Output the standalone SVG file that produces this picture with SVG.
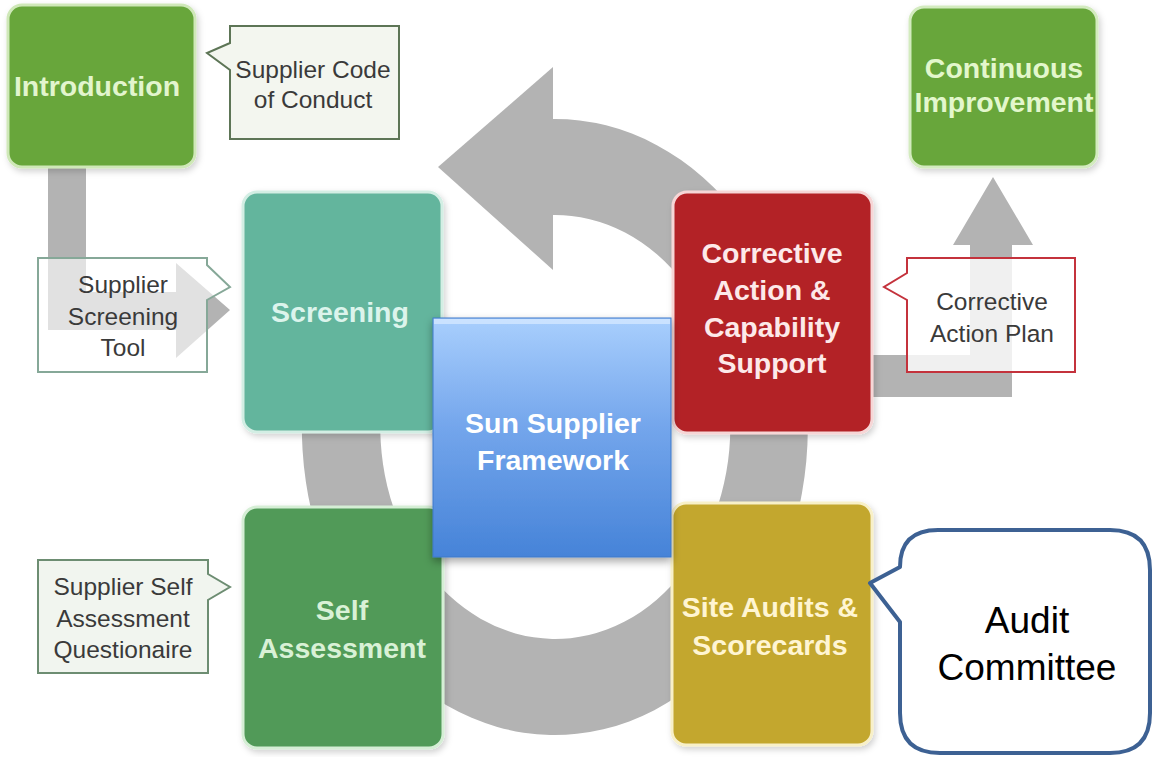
<svg xmlns="http://www.w3.org/2000/svg" width="1152" height="757" viewBox="0 0 1152 757">
<defs>
  <linearGradient id="blueGrad" x1="0" y1="0" x2="0" y2="1">
    <stop offset="0" stop-color="#a9cffd"/>
    <stop offset="0.45" stop-color="#74a6ec"/>
    <stop offset="1" stop-color="#4683d8"/>
  </linearGradient>
  <filter id="shadow" x="-10%" y="-10%" width="130%" height="130%">
    <feDropShadow dx="2" dy="3" stdDeviation="3" flood-color="#000" flood-opacity="0.18"/>
  </filter>
  <filter id="blueShadow" x="-10%" y="-10%" width="130%" height="130%">
    <feDropShadow dx="0" dy="4" stdDeviation="4" flood-color="#000" flood-opacity="0.35"/>
  </filter>
</defs>
<style>
  .gray { fill: #b3b3b3; }
  .box { stroke-width: 3; filter: url(#shadow); }
  .btxt { font-family: "Liberation Sans", Arial, sans-serif; font-weight: bold; font-size: 28.5px; text-anchor: middle; }
  .ctxt { font-family: "Liberation Sans", Arial, sans-serif; font-size: 24.5px; fill: #3a3a3a; text-anchor: middle; }
  .callout { stroke-width: 2; }
</style>
<rect width="1152" height="757" fill="#ffffff"/>

<g id="connectors">
  <!-- big cycle arrow -->
  <path class="gray" d="M 553,119 A 253 308 0 1 1 317,322 L 391,354 A 175 212 0 1 0 553,215 Z"/>
  <polygon class="gray" points="553,67 438,167 553,270"/>
  <!-- introduction to screening arrow -->
  <path class="gray" d="M 48,167 L 86,167 L 86,292 L 176,292 L 176,263 L 230,310 L 176,358 L 176,330 L 48,330 Z"/>
  <!-- corrective to continuous improvement arrow -->
  <path class="gray" d="M 872,355 L 970,355 L 970,245 L 953,245 L 993,177 L 1033,245 L 1012,245 L 1012,397 L 872,397 Z"/>
</g>

<g id="introduction">
  <rect class="box" x="8" y="5" width="187" height="162" rx="14" fill="#67a63a" stroke="#cfe8b8"/>
  <text class="btxt" x="97" y="96" fill="#e2f5cd" font-size="27">Introduction</text>
</g>

<g id="supplier-code-of-conduct">
  <path class="callout" d="M 230,26 L 399,26 L 399,139 L 230,139 L 230,70 L 207,53 L 230,43 Z" fill="#f3f6ef" stroke="#5d7556"/>
  <text class="ctxt" x="313" y="78">Supplier Code</text>
  <text class="ctxt" x="313" y="108">of Conduct</text>
</g>

<g id="supplier-screening-tool">
  <path class="callout" d="M 38,258 L 207,258 L 207,265 L 230,287 L 207,300 L 207,372 L 38,372 Z" fill="#ffffff" fill-opacity="0.6" stroke="#86a898"/>
  <text class="ctxt" x="123" y="293">Supplier</text>
  <text class="ctxt" x="123" y="325">Screening</text>
  <text class="ctxt" x="123" y="356">Tool</text>
</g>

<g id="screening">
  <rect class="box" x="243" y="192" width="199" height="240" rx="14" fill="#64b59d" stroke="#d3eee4"/>
  <text class="btxt" x="340" y="322" fill="#dcf4ec">Screening</text>
</g>

<g id="self-assessment">
  <rect class="box" x="243" y="507" width="200" height="241" rx="14" fill="#519a59" stroke="#d5eed5"/>
  <text class="btxt" x="342" y="620" fill="#d9f1d6">Self</text>
  <text class="btxt" x="342" y="658" fill="#d9f1d6">Assessment</text>
</g>

<g id="supplier-self-assessment-questionaire">
  <path class="callout" d="M 38,560 L 208,560 L 208,574 L 230,587 L 208,600 L 208,673 L 38,673 Z" fill="#f1f5ef" stroke="#6d8d72"/>
  <text class="ctxt" x="123" y="595">Supplier Self</text>
  <text class="ctxt" x="123" y="627">Assessment</text>
  <text class="ctxt" x="123" y="658">Questionaire</text>
</g>

<g id="corrective-action">
  <rect class="box" x="673" y="192" width="199" height="241" rx="14" fill="#b32126" stroke="#f6d6d6"/>
  <text class="btxt" x="772" y="263" fill="#fde9e9">Corrective</text>
  <text class="btxt" x="772" y="300" fill="#fde9e9">Action &amp;</text>
  <text class="btxt" x="772" y="337" fill="#fde9e9">Capability</text>
  <text class="btxt" x="772" y="373" fill="#fde9e9">Support</text>
</g>

<g id="corrective-action-plan">
  <path class="callout" d="M 907,258 L 1075,258 L 1075,372 L 907,372 L 907,300 L 884,287 L 907,273 Z" fill="#ffffff" fill-opacity="0.8" stroke="#c4323c"/>
  <text class="ctxt" x="992" y="310">Corrective</text>
  <text class="ctxt" x="992" y="342">Action Plan</text>
</g>

<g id="continuous-improvement">
  <rect class="box" x="910" y="7" width="187" height="160" rx="14" fill="#67a63a" stroke="#d3ebbf"/>
  <text class="btxt" x="1004" y="78" fill="#e3f7cc" font-size="26">Continuous</text>
  <text class="btxt" x="1004" y="112" fill="#e3f7cc" font-size="26">Improvement</text>
</g>

<g id="site-audits">
  <rect class="box" x="672" y="503" width="200" height="242" rx="14" fill="#c3a72e" stroke="#f8f0c8"/>
  <text class="btxt" x="770" y="617" fill="#fff5d2">Site Audits &amp;</text>
  <text class="btxt" x="770" y="655" fill="#fff5d2">Scorecards</text>
</g>

<g id="sun-supplier-framework">
  <rect x="433" y="318" width="238" height="239" fill="url(#blueGrad)" stroke="#3f79c9" stroke-width="1" filter="url(#blueShadow)"/>
  <rect x="434" y="319" width="236" height="5" fill="#d3e7ff" opacity="0.8"/>
  <text class="btxt" x="553" y="433" fill="#ffffff" font-size="31">Sun Supplier</text>
  <text class="btxt" x="553" y="470" fill="#ffffff" font-size="31">Framework</text>
</g>

<g id="audit-committee">
  <path d="M 938,530 L 1110,530 Q 1150,530 1150,570 L 1150,713 Q 1150,753 1110,753 L 940,753 Q 900,753 900,713 L 900,622 L 870,583 L 900,567 Q 900,530 938,530 Z" fill="#ffffff" stroke="#3d6193" stroke-width="4" stroke-linejoin="round"/>
  <text x="1027" y="633" font-family="Liberation Sans, Arial, sans-serif" font-size="37" fill="#000000" text-anchor="middle">Audit</text>
  <text x="1027" y="680" font-family="Liberation Sans, Arial, sans-serif" font-size="37" fill="#000000" text-anchor="middle">Committee</text>
</g>
</svg>
